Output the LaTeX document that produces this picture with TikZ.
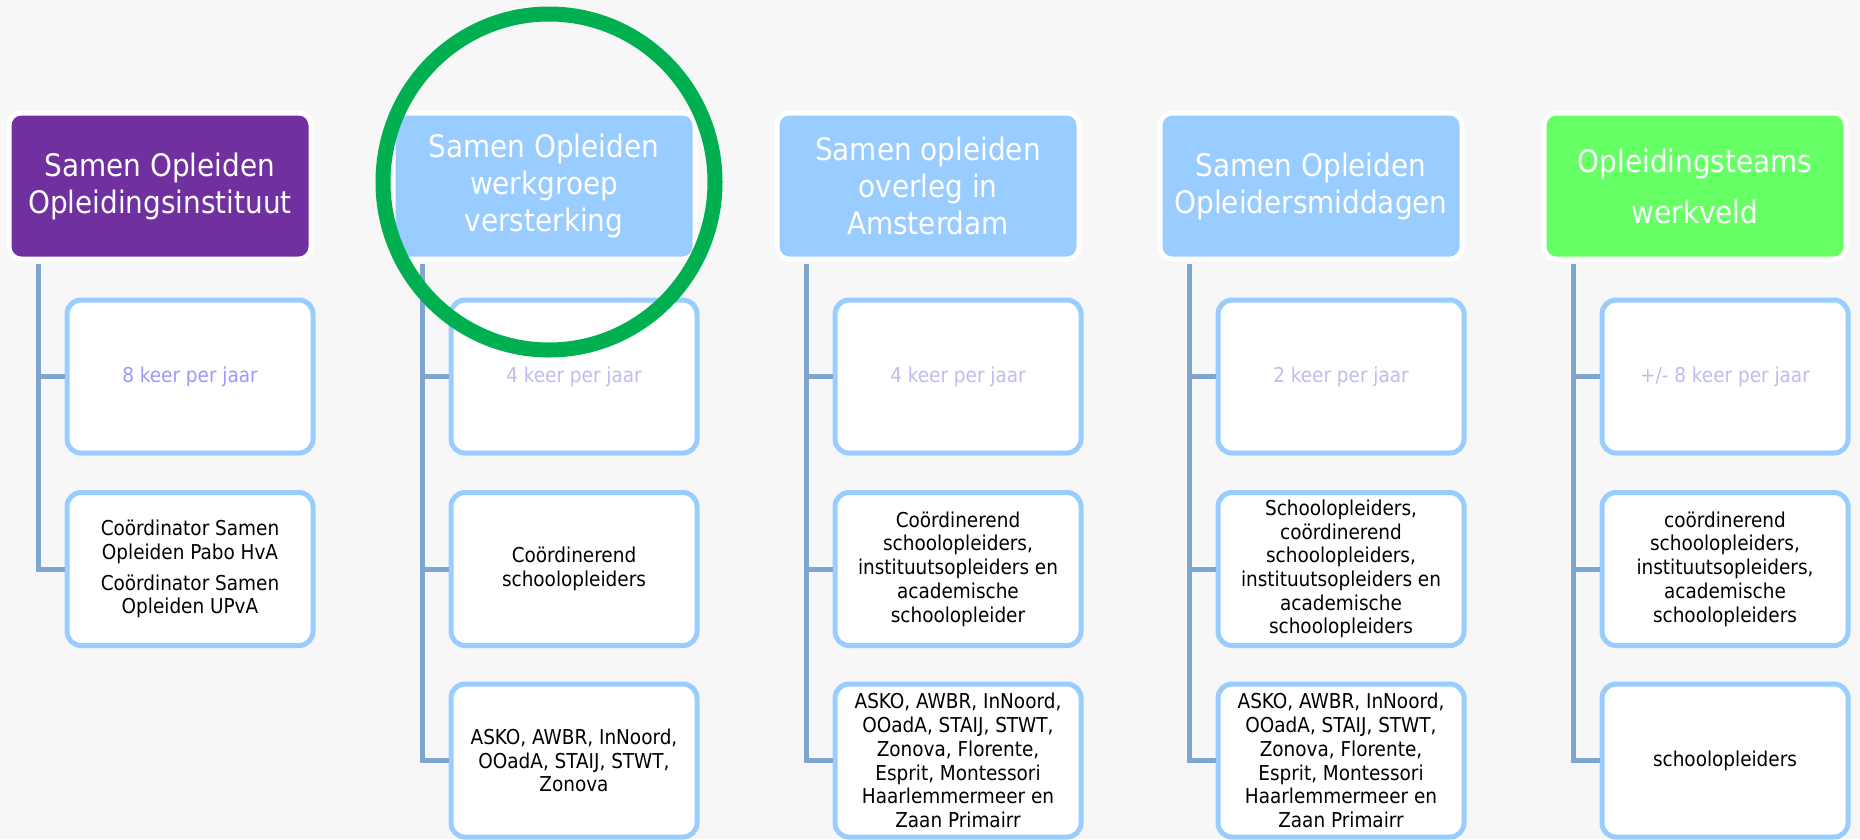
\documentclass[tikz,border=0pt]{standalone}
\usepackage{fontspec}
\setmainfont{DejaVu Sans Condensed}
\usepackage{tikz}

\definecolor{bgcol}{HTML}{F7F7F7}
\definecolor{purplehead}{HTML}{7030A0}
\definecolor{bluehead}{HTML}{99CCFF}
\definecolor{greenhead}{HTML}{66FF66}
\definecolor{childline}{HTML}{99CCFF}
\definecolor{linkcol}{HTML}{7EA6CE}
\definecolor{freqdark}{HTML}{9999FF}
\definecolor{freqlight}{HTML}{BDBDEE}
\definecolor{ringcol}{HTML}{00B050}

\tikzset{
  headbox/.style={draw=white,line width=5pt,rounded corners=12pt,text=white,
    minimum width=302pt,minimum height=146pt,align=center,inner sep=0pt,
    font=\fontsize{31}{37}\selectfont},
  childbox/.style={draw=childline,fill=white,line width=5pt,rounded corners=14pt,
    minimum width=246pt,minimum height=153pt,align=center,inner sep=0pt,
    font=\fontsize{20.5}{23.7}\selectfont},
  link/.style={draw=linkcol,line width=5pt},
  ring/.style={draw=ringcol,line width=15pt}
}

\begin{document}
\begin{tikzpicture}[x=1pt,y=-1pt]
% Background
\fill[bgcol] (0,0) rectangle (1860,839);
\useasboundingbox (0,0) rectangle (1860,839);

% Headers
\node[headbox,fill=purplehead] (h1) at (160,186) {Samen Opleiden\\Opleidingsinstituut};
\node[headbox,fill=bluehead] (h2) at (544,186) {Samen Opleiden\\werkgroep\\versterking};
\node[headbox,fill=bluehead] (h3) at (928,186) {Samen opleiden\\overleg in\\Amsterdam};
\node[headbox,fill=bluehead] (h4) at (1311,186) {Samen Opleiden\\Opleidersmiddagen};
\node[headbox,fill=greenhead] (h5) at (1695,186) {Opleidingsteams\\[14pt]werkveld};

% Column 1
\node[childbox,text=freqdark] (c11) at (190,376.5) {8 keer per jaar};
\node[childbox] (c12) at (190,569) {Co\"ordinator Samen\\Opleiden Pabo HvA\\[7pt]Co\"ordinator Samen\\Opleiden UPvA};

% Column 2
\node[childbox,text=freqlight] (c21) at (574,376.5) {4 keer per jaar};
\node[childbox] (c22) at (574,569) {Co\"ordinerend\\schoolopleiders};
\node[childbox] (c23) at (574,760.5) {ASKO, AWBR, InNoord,\\OOadA, STAIJ, STWT,\\Zonova};

% Column 3
\node[childbox,text=freqlight] (c31) at (958,376.5) {4 keer per jaar};
\node[childbox] (c32) at (958,569) {Co\"ordinerend\\schoolopleiders,\\instituutsopleiders en\\academische\\schoolopleider};
\node[childbox] (c33) at (958,760.5) {ASKO, AWBR, InNoord,\\OOadA, STAIJ, STWT,\\Zonova, Florente,\\Esprit, Montessori\\Haarlemmermeer en\\Zaan Primairr};

% Column 4
\node[childbox,text=freqlight] (c41) at (1341,376.5) {2 keer per jaar};
\node[childbox] (c42) at (1341,569) {Schoolopleiders,\\co\"ordinerend\\schoolopleiders,\\instituutsopleiders en\\academische\\schoolopleiders};
\node[childbox] (c43) at (1341,760.5) {ASKO, AWBR, InNoord,\\OOadA, STAIJ, STWT,\\Zonova, Florente,\\Esprit, Montessori\\Haarlemmermeer en\\Zaan Primairr};

% Column 5
\node[childbox,text=freqlight] (c51) at (1725,376.5) {+/- 8 keer per jaar};
\node[childbox] (c52) at (1725,569) {co\"ordinerend\\schoolopleiders,\\instituutsopleiders,\\academische\\schoolopleiders};
\node[childbox] (c53) at (1725,760.5) {schoolopleiders};

% Connectors
\coordinate (t1) at ([xshift=-122pt,yshift=-2.5pt]h1.south);
\coordinate (t2) at ([xshift=-122pt,yshift=-2.5pt]h2.south);
\coordinate (t3) at ([xshift=-122pt,yshift=-2.5pt]h3.south);
\coordinate (t4) at ([xshift=-122pt,yshift=-2.5pt]h4.south);
\coordinate (t5) at ([xshift=-122pt,yshift=-2.5pt]h5.south);
\draw[link] (t1) |- (c11.west);
\draw[link] (t1) |- (c12.west);
\draw[link] (t2) |- (c21.west);
\draw[link] (t2) |- (c22.west);
\draw[link] (t2) |- (c23.west);
\draw[link] (t3) |- (c31.west);
\draw[link] (t3) |- (c32.west);
\draw[link] (t3) |- (c33.west);
\draw[link] (t4) |- (c41.west);
\draw[link] (t4) |- (c42.west);
\draw[link] (t4) |- (c43.west);
\draw[link] (t5) |- (c51.west);
\draw[link] (t5) |- (c52.west);
\draw[link] (t5) |- (c53.west);

% Highlight ring
\draw[ring] (549,182) ellipse [x radius=166pt, y radius=168pt];
\end{tikzpicture}
\end{document}
